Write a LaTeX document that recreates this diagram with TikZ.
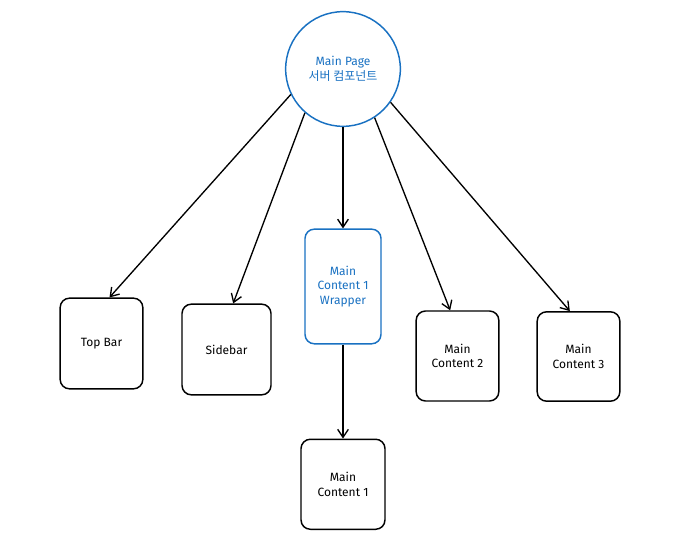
\documentclass[tikz,border=0pt]{standalone}
\usepackage{fontspec}
\setmainfont{Fira Sans}
\newfontfamily\kofont{Noto Sans CJK KR}
\usepackage{xcolor}
\usepackage{tikz}
\usetikzlibrary{arrows.meta,positioning}

\definecolor{exblue}{HTML}{1971C2}

\begin{document}
\begin{tikzpicture}[x=0.75pt, y=-0.75pt,
  box/.style={draw, line width=1.1pt, rounded corners=7pt, fill=white, font=\small, align=center,
    minimum width=62pt, minimum height=68pt, inner sep=2pt},
  bluebox/.style={box, draw=exblue, text=exblue},
  arrow/.style={-{Straight Barb[length=6pt, width=8pt]}, line width=1pt}]

\useasboundingbox (0,0) rectangle (700,545);

\node[circle, draw=exblue, line width=1.1pt, text=exblue, font=\small, align=center,
  minimum size=86pt] (mainpage) at (343,69) {Main Page\\ {\kofont 서버 컴포넌트}};

\node[bluebox, below=76pt of mainpage, minimum width=57pt, minimum height=86pt] (wrapper) {Main\\ Content 1\\ Wrapper};
\node[box, below=70.5pt of wrapper, minimum width=63pt, minimum height=67.5pt] (content1) {Main\\ Content 1};

\node[box] (topbar) at (101.5,343.5) {Top Bar};
\node[box, minimum width=66.75pt] (sidebar) at (226.5,349.5) {Sidebar};
\node[box, minimum height=67.5pt] (content2) at (457.5,356) {Main\\ Content 2};
\node[box, minimum height=67pt] (content3) at (578.5,356.5) {Main\\ Content 3};

\draw[arrow] (mainpage.206) -- ([xshift=6pt]topbar.north);
\draw[arrow] (mainpage.229) -- ([xshift=5pt]sidebar.north);
\draw[arrow] (mainpage.south) -- (wrapper.north);
\draw[arrow] (mainpage.303) -- ([xshift=-5.5pt]content2.north);
\draw[arrow] (mainpage.325) -- ([xshift=-6.5pt]content3.north);
\draw[arrow] (wrapper.south) -- (content1.north);
\end{tikzpicture}
\end{document}
